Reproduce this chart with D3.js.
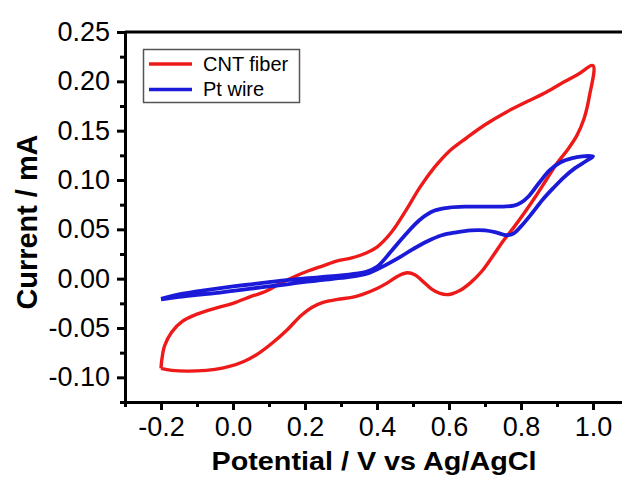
<!DOCTYPE html>
<html>
<head>
<meta charset="utf-8">
<script src="https://cdn.jsdelivr.net/npm/d3@7"></script>
<style>
  html, body { margin: 0; padding: 0; background: #fff; }
  svg { display: block; }
  text { font-family: "Liberation Sans", Arial, sans-serif; fill: #000; }
</style>
</head>
<body>
<svg id="chart" width="622" height="479"></svg>
<script>
// Cyclic voltammograms: potential (V vs Ag/AgCl) and current (mA)
const seriesNames = ["CNT fiber", "Pt wire"];
const seriesColors = ["#ee1a1a", "#1a1ad8"];

// CNT fiber: anodic sweep -0.2 -> 1.0 V, then cathodic sweep back
const cntPotential = [
  -0.200, -0.170, -0.100, -0.050, -0.010, 0.030, 0.070, 0.110, 0.150, 0.190,
  0.220, 0.250, 0.290, 0.330, 0.360, 0.400, 0.430, 0.460, 0.485, 0.505,
  0.525, 0.550, 0.575, 0.600, 0.630, 0.660, 0.690, 0.720, 0.750, 0.780,
  0.810, 0.840, 0.870, 0.900, 0.930, 0.955, 0.975, 0.990, 1.000,
  0.960, 0.920, 0.870, 0.820, 0.760, 0.700, 0.650, 0.600, 0.560, 0.520,
  0.480, 0.440, 0.400, 0.370, 0.330, 0.290, 0.250, 0.210, 0.170, 0.130,
  0.090, 0.050, 0.000, -0.050, -0.100, -0.140, -0.170, -0.190, -0.198, -0.200
];
const cntCurrent = [
  -0.091, -0.093, -0.0935, -0.092, -0.089, -0.084, -0.076, -0.065, -0.052, -0.037,
  -0.029, -0.024, -0.021, -0.019, -0.016, -0.010, -0.004, 0.003, 0.006, 0.004,
  -0.002, -0.010, -0.015, -0.016, -0.012, -0.004, 0.007, 0.022, 0.038, 0.052,
  0.067, 0.083, 0.100, 0.117, 0.131, 0.145, 0.162, 0.185, 0.216,
  0.2075, 0.1995, 0.189, 0.180, 0.169, 0.156, 0.143, 0.129, 0.113, 0.093,
  0.069, 0.047, 0.032, 0.026, 0.021, 0.018, 0.013, 0.008, 0.002, -0.005,
  -0.013, -0.018, -0.025, -0.030, -0.036, -0.043, -0.054, -0.068, -0.083, -0.091
];

// Pt wire: anodic sweep -0.2 -> 1.0 V, then cathodic sweep back
const ptPotential = [
  -0.200, -0.150, -0.100, -0.050, 0.000, 0.050, 0.100, 0.150, 0.200, 0.250,
  0.300, 0.350, 0.380, 0.420, 0.460, 0.500, 0.540, 0.580, 0.620, 0.660,
  0.700, 0.730, 0.760, 0.780, 0.800, 0.830, 0.860, 0.890, 0.920, 0.950,
  0.980, 1.000,
  0.970, 0.940, 0.910, 0.880, 0.850, 0.820, 0.800, 0.780, 0.740, 0.700,
  0.650, 0.600, 0.560, 0.520, 0.480, 0.440, 0.400, 0.370, 0.340, 0.300,
  0.250, 0.200, 0.150, 0.100, 0.050, 0.000, -0.050, -0.100, -0.150, -0.200
];
const ptCurrent = [
  -0.021, -0.0185, -0.0165, -0.0147, -0.0124, -0.0101, -0.0079, -0.0057, -0.0033, -0.0013,
  0.0007, 0.0032, 0.006, 0.013, 0.021, 0.030, 0.038, 0.044, 0.047, 0.049,
  0.049, 0.047, 0.044, 0.046, 0.053, 0.066, 0.080, 0.092, 0.103, 0.112,
  0.119, 0.124,
  0.124, 0.122, 0.118, 0.110, 0.097, 0.083, 0.077, 0.074, 0.073, 0.073,
  0.073, 0.072, 0.069, 0.060, 0.045, 0.028, 0.012, 0.007, 0.005, 0.0032,
  0.0017, 0.0002, -0.0014, -0.0035, -0.0057, -0.0079, -0.0103, -0.013, -0.016, -0.0205
];

const xMajorTicks = [-0.2, 0.0, 0.2, 0.4, 0.6, 0.8, 1.0];
const xTickLabels = ["-0.2", "0.0", "0.2", "0.4", "0.6", "0.8", "1.0"];
const xMinorTicks = [-0.3, -0.1, 0.1, 0.3, 0.5, 0.7, 0.9];
const yMajorTicks = [-0.10, -0.05, 0.00, 0.05, 0.10, 0.15, 0.20, 0.25];
const yTickLabels = ["-0.10", "-0.05", "0.00", "0.05", "0.10", "0.15", "0.20", "0.25"];
const yMinorTicks = [-0.125, -0.075, -0.025, 0.025, 0.075, 0.125, 0.175, 0.225];

const svg = d3.select("#chart");
svg.append("rect").attr("width", 622).attr("height", 479).attr("fill", "#fff");

const plot = { left: 125, top: 32, bottom: 402 };
const x = d3.scaleLinear().domain([-0.3, 1.1]).range([plot.left, plot.left + 504]);
const y = d3.scaleLinear().domain([-0.125, 0.25]).range([plot.bottom, plot.top]);

// curves
const line = d3.line()
  .x(d => x(d[0]))
  .y(d => y(d[1]))
  .curve(d3.curveCatmullRom.alpha(0.5));

const series = [
  d3.zip(cntPotential, cntCurrent),
  d3.zip(ptPotential, ptCurrent)
];

svg.append("g").selectAll("path")
  .data(series)
  .join("path")
  .attr("d", line)
  .attr("fill", "none")
  .attr("stroke", (d, i) => seriesColors[i])
  .attr("stroke-width", (d, i) => i === 0 ? 3.4 : 3.8)
  .attr("stroke-linejoin", "round");

// axes
const axisStroke = 3;
function styleAxis(g) {
  g.select(".domain").attr("stroke", "#000").attr("stroke-width", axisStroke);
  g.selectAll(".tick line").attr("stroke", "#000").attr("stroke-width", axisStroke);
}

const yAxisMinor = svg.append("g")
  .attr("transform", `translate(${plot.left},0)`)
  .call(d3.axisLeft(y).tickValues(yMinorTicks).tickSize(5).tickSizeOuter(0).tickFormat(""));
styleAxis(yAxisMinor);

const yAxis = svg.append("g")
  .attr("transform", `translate(${plot.left},0)`)
  .call(d3.axisLeft(y).tickValues(yMajorTicks).tickSize(8).tickSizeOuter(0).tickPadding(7)
    .tickFormat((d, i) => yTickLabels[i]));
styleAxis(yAxis);
yAxis.selectAll(".tick text")
  .attr("font-family", "'Liberation Sans', Arial, sans-serif")
  .attr("font-size", 27)
  .attr("fill", "#000");

const xAxisMinor = svg.append("g")
  .attr("transform", `translate(0,${plot.bottom})`)
  .call(d3.axisBottom(x).tickValues(xMinorTicks).tickSize(5).tickSizeOuter(0).tickFormat(""));
styleAxis(xAxisMinor);

const xAxis = svg.append("g")
  .attr("transform", `translate(0,${plot.bottom})`)
  .call(d3.axisBottom(x).tickValues(xMajorTicks).tickSize(8).tickSizeOuter(0).tickPadding(7)
    .tickFormat((d, i) => xTickLabels[i]));
styleAxis(xAxis);
xAxis.selectAll(".tick text")
  .attr("font-family", "'Liberation Sans', Arial, sans-serif")
  .attr("font-size", 27)
  .attr("fill", "#000");

// top frame line
svg.append("line")
  .attr("x1", x(-0.3)).attr("x2", x(1.1))
  .attr("y1", y(0.25)).attr("y2", y(0.25))
  .attr("stroke", "#000").attr("stroke-width", axisStroke);

// axis titles
svg.append("text")
  .attr("x", 374).attr("y", 470)
  .attr("text-anchor", "middle")
  .attr("font-size", 26).attr("font-weight", "bold")
  .attr("textLength", 325).attr("lengthAdjust", "spacingAndGlyphs")
  .text("Potential / V vs Ag/AgCl");

svg.append("text")
  .attr("transform", "translate(37,222) rotate(-90)")
  .attr("text-anchor", "middle")
  .attr("font-size", 29).attr("font-weight", "bold")
  .attr("textLength", 175).attr("lengthAdjust", "spacingAndGlyphs")
  .text("Current / mA");

// legend
const legend = svg.append("g");
legend.append("rect")
  .attr("x", 143.5).attr("y", 49.5).attr("width", 156).attr("height", 53)
  .attr("fill", "#fff").attr("stroke", "#555").attr("stroke-width", 1.5);
const rows = legend.selectAll("g.row")
  .data(seriesNames)
  .join("g")
  .attr("class", "row")
  .attr("transform", (d, i) => `translate(0,${64 + i * 25.5})`);
rows.append("line")
  .attr("x1", 149).attr("x2", 192)
  .attr("stroke", (d, i) => seriesColors[i])
  .attr("stroke-width", 3.6);
rows.append("text")
  .attr("x", 203).attr("y", 6.5)
  .attr("font-size", 20)
  .text(d => d);
</script>
</body>
</html>
